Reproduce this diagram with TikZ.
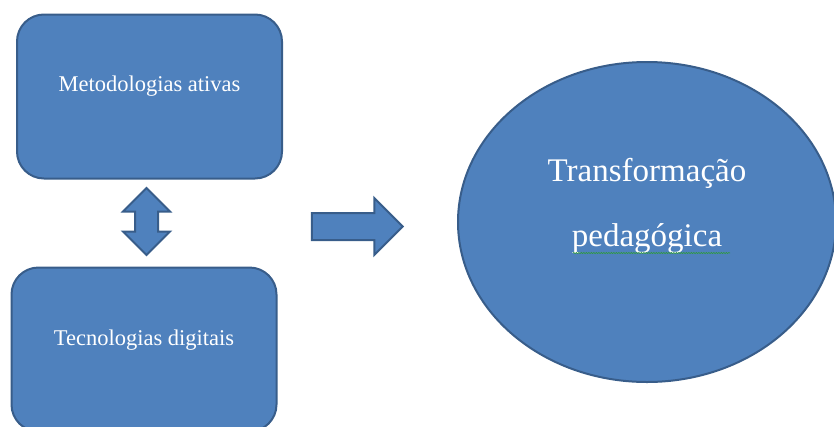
\documentclass[tikz,border=0pt]{standalone}
\usepackage{fontspec}
\setmainfont{Liberation Serif}
\usetikzlibrary{shapes.geometric,shapes.arrows,decorations.pathmorphing}
\definecolor{boxfill}{HTML}{4F81BD}
\definecolor{boxline}{HTML}{385D8A}
\definecolor{spellgreen}{HTML}{2E9A3C}

\begin{document}
\begin{tikzpicture}[x=1pt, y=-1pt,
  box node/.style={draw=boxline, fill=boxfill, line width=2pt, rounded corners=27pt,
    minimum width=265pt, minimum height=164pt, inner sep=0pt},
  arrow node/.style={draw=boxline, fill=boxfill, line width=2pt, inner xsep=0pt},
  small text/.style={text=white, font=\fontsize{22.5}{27}\selectfont, anchor=base, inner sep=0pt},
  big text/.style={text=white, font=\fontsize{33}{65}\selectfont, align=center, inner sep=0pt}]
\useasboundingbox (0,0) rectangle (834,426);

\node[box node] (met) at (149.5,96.5) {};
\node[box node] (tec) at (144,349.5) {};
\node[small text] at ([yshift=5.5pt]met.center) {Metodologias ativas};
\node[small text] at ([yshift=4.5pt]tec.center) {Tecnologias digitais};

\node[arrow node, double arrow, rotate=90, minimum height=67pt, inner ysep=10.5pt,
  double arrow head extend=12pt] (link) at (146.5,221.5) {};
\node[arrow node, single arrow, minimum height=91pt, inner ysep=12.5pt,
  single arrow head extend=15pt] (go) at (350.5,226.5) {};

\node[ellipse, draw=boxline, fill=boxfill, line width=2pt, minimum width=378pt,
  minimum height=320pt, inner sep=0pt] (trans) at (647,222) {};
\node[big text] (transtxt) at ([yshift=16pt]trans.center) {Transformação\\pedagógica};
% sublinhado do corretor
\draw[spellgreen, line width=0.6pt, decorate,
  decoration={snake, amplitude=0.6pt, segment length=2.5pt}] (573,253) -- (730,253);
\end{tikzpicture}
\end{document}
